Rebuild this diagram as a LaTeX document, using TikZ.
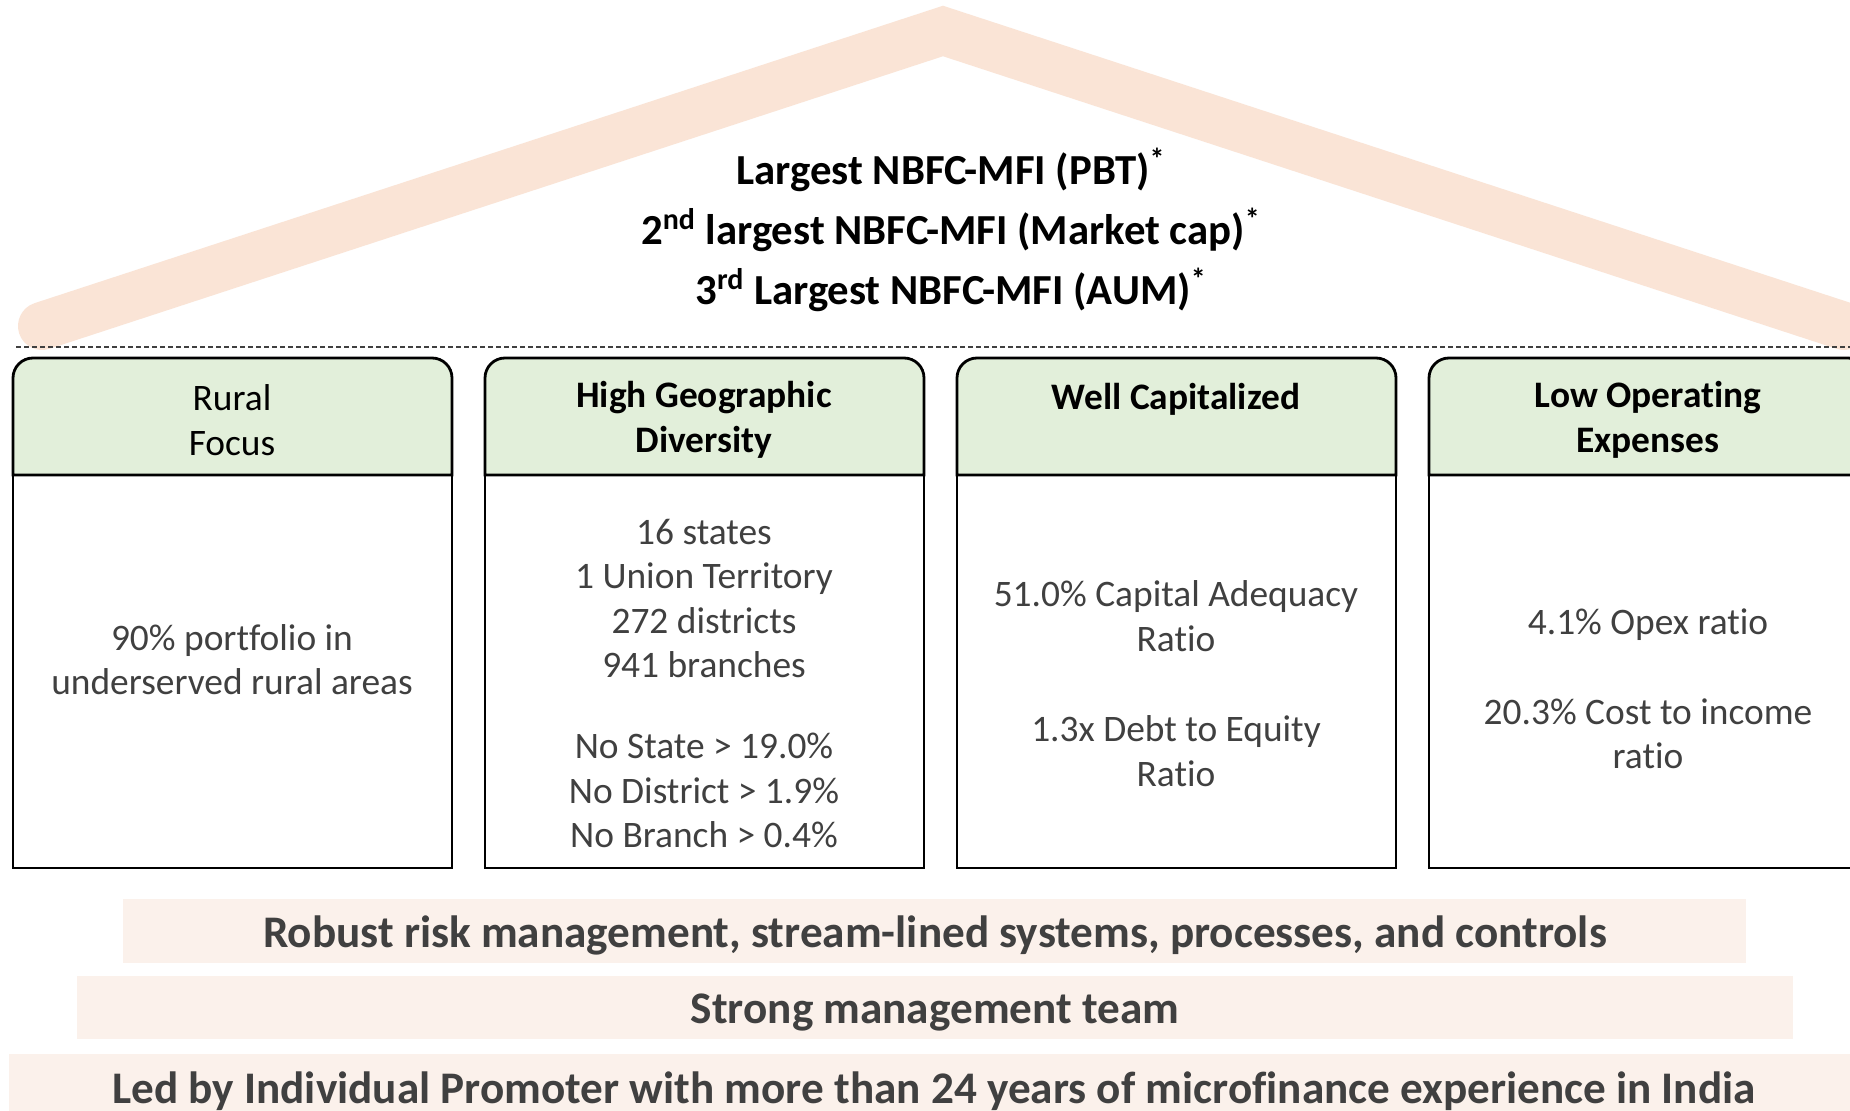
\documentclass[tikz,border=0pt]{standalone}
\usepackage{fontspec}
\setmainfont{Carlito}[Ligatures=NoCommon]
\definecolor{roofc}{HTML}{FAE4D6}
\definecolor{bandc}{HTML}{FBF1EB}
\definecolor{hdrc}{HTML}{E2EFDA}
\definecolor{txtc}{HTML}{404040}
\tikzset{
  roofline/.style={draw=roofc, line width=24pt, line cap=round, line join=miter},
  sepline/.style={draw=txtc, line width=0.7pt, dash pattern=on 2.5pt off 1.5pt},
  hdrbox/.style={fill=hdrc, draw=black, line width=1.4pt},
  bodybox/.style={fill=white, draw=black, line width=1.4pt},
  bandbox/.style={fill=bandc, draw=none},
  rooftext/.style={align=center, font=\fontsize{21.4pt}{30pt}\selectfont\bfseries, text=black, inner sep=0pt},
  hdrtext/.style={align=center, font=\fontsize{18.7pt}{22.25pt}\selectfont, text=black, inner sep=0pt},
  hdrbold/.style={hdrtext, font=\fontsize{18.7pt}{22.25pt}\selectfont\bfseries},
  bodytext/.style={align=center, font=\fontsize{18.7pt}{22.25pt}\selectfont, text=txtc, inner sep=0pt},
  bandtext/.style={font=\fontsize{22.6pt}{26pt}\selectfont\bfseries, text=txtc, inner sep=0pt}
}
\begin{document}
\begin{tikzpicture}[x=0.5pt,y=-0.5pt]
\useasboundingbox (0,0) rectangle (1850,1111);
\clip (0,0) rectangle (1850,1111);
\fill[white] (0,0) rectangle (1850,1111);
% roof
\coordinate (rl) at (42,326);
\coordinate (ra) at (943,31);
\coordinate (rr) at (1844,326);
\draw[roofline] (rl) -- (ra) -- (rr);
% separator
\coordinate (sl) at (16,347);
\coordinate (sr) at (1850,347);
\draw[sepline] (sl) -- (sr);
% roof text
\node[rooftext] (claims) at (951,229.5) {Largest NBFC-MFI (PBT)\textsuperscript{*}\\
2\textsuperscript{nd} largest NBFC-MFI (Market cap)\textsuperscript{*}\\
3\textsuperscript{rd} Largest NBFC-MFI (AUM)\textsuperscript{*}};
% pillars
\foreach \i in {0,1,2,3}{
  \pgfmathsetmacro{\xl}{13+472*\i}
  \pgfmathsetmacro{\xr}{\xl+439}
  \draw[bodybox] (\xl,475) rectangle (\xr,868);
  \draw[hdrbox] (\xl,475) [rounded corners=10pt] -- (\xl,358) -- (\xr,358) [sharp corners] -- (\xr,475) -- cycle;
}
% headers
\node[hdrtext] (h1) at (232,420) {Rural\\Focus};
\node[hdrbold] (h2) at (704,420) {High Geographic\\Diversity};
\node[hdrbold] (h3) at (1176,399) {Well Capitalized};
\node[hdrbold] (h4) at (1648,420) {Low Operating\\Expenses};
% bodies
\node[bodytext] (b1) at (232,659.5) {90\% portfolio in\\underserved rural areas};
\node[bodytext] (b2) at (704,683.5) {16 states\\1 Union Territory\\272 districts\\941 branches\\[18.25pt]No State > 19.0\%\\No District > 1.9\%\\No Branch > 0.4\%};
\node[bodytext] (b3) at (1176,683.5) {51.0\% Capital Adequacy\\Ratio\\[23pt]1.3x Debt to Equity\\Ratio};
\node[bodytext] (b4) at (1648,689) {4.1\% Opex ratio\\[22.75pt]20.3\% Cost to income\\ratio};
% foundation bands
\fill[bandbox] (123,899) rectangle (1746,963);
\fill[bandbox] (77,976) rectangle (1793,1039);
\fill[bandbox] (9,1054) rectangle (1850,1111);
\node[bandtext] (f1) at (935,935.5) {Robust risk management, stream-lined systems, processes, and controls};
\node[bandtext] (f2) at (935,1013) {Strong management team};
\node[bandtext] (f3) at (934,1091) {Led by Individual Promoter with more than 24 years of microfinance experience in India};
\end{tikzpicture}
\end{document}
